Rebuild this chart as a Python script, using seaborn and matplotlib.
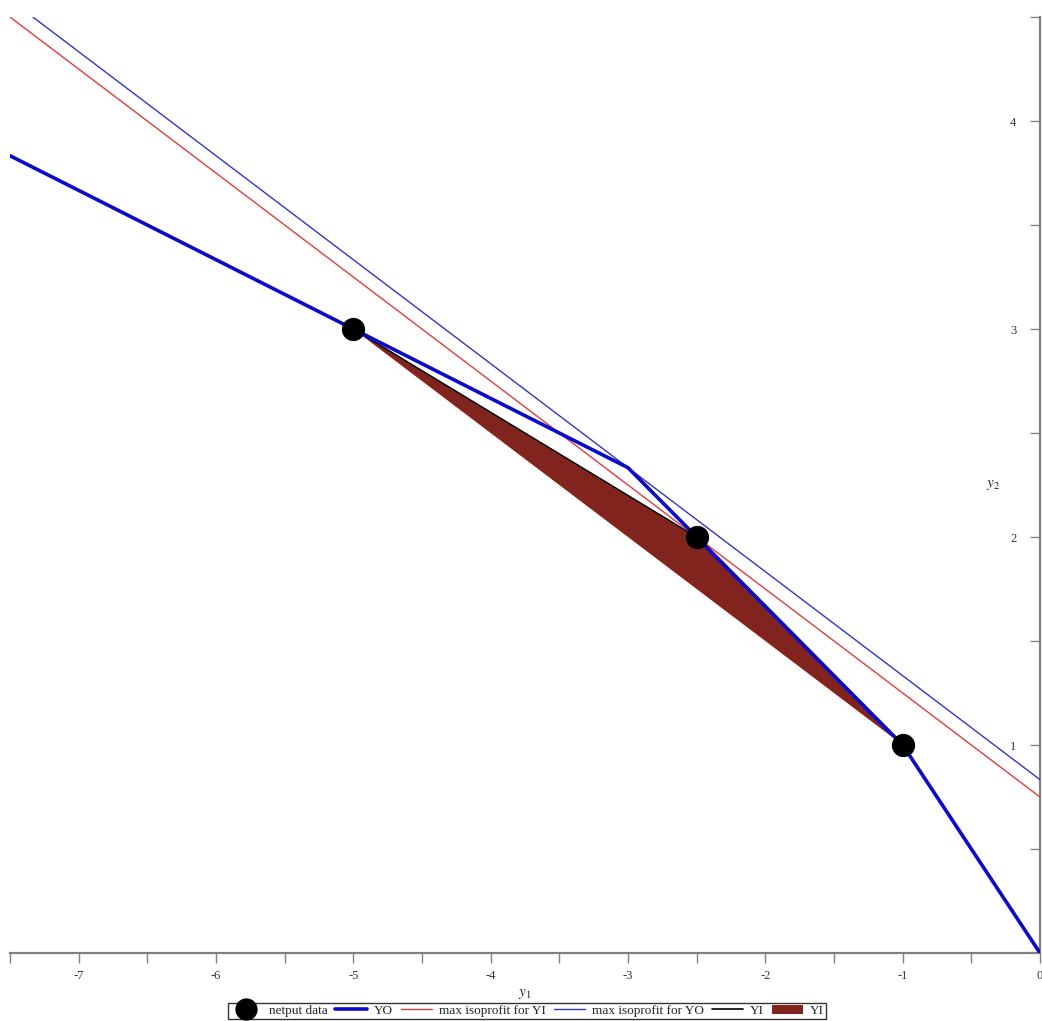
import numpy as np
import pandas as pd
import matplotlib
matplotlib.use('Agg')
import matplotlib.pyplot as plt
import seaborn as sns
from matplotlib.lines import Line2D
from matplotlib.patches import Patch
from matplotlib.ticker import MultipleLocator

# netput data points
netput_y1 = [-5.0, -2.5, -1.0]
netput_y2 = [3.0, 2.0, 1.0]

# YO frontier
yo_y1 = [-7.5, -5.0, -3.0, -2.5, -1.0, 0.0]
yo_y2 = [3.8333, 3.0, 2.3333, 2.0, 1.0, 0.0]

# max isoprofit lines
iso_yi_y1 = [-7.5, 0.0]
iso_yi_y2 = [4.5, 0.75]
iso_yo_y1 = [-7.3333, 0.0]
iso_yo_y2 = [4.5, 0.8333]

# YI region (triangle through the data)
yi_y1 = [-5.0, -2.5, -1.0, -5.0]
yi_y2 = [3.0, 2.0, 1.0, 3.0]

sns.set_style('white')
plt.rcParams['font.family'] = ['Liberation Serif', 'DejaVu Serif']
plt.rcParams['mathtext.fontset'] = 'stix'

fig = plt.figure(figsize=(10.42, 10.21), dpi=100)
ax = fig.add_axes([0.0096, 0.0666, 0.9885, 0.9167])

yi_color = '#82241e'
ax.fill(yi_y1, yi_y2, facecolor=yi_color, edgecolor='none', zorder=1)
sns.lineplot(x=yi_y1, y=yi_y2, sort=False, color='black', lw=1.0, ax=ax, zorder=2)

sns.lineplot(x=iso_yi_y1, y=iso_yi_y2, sort=False, color='#e03c3c', lw=1.0, ax=ax, zorder=3)
sns.lineplot(x=iso_yo_y1, y=iso_yo_y2, sort=False, color='#3434c8', lw=1.0, ax=ax, zorder=3)
sns.lineplot(x=yo_y1, y=yo_y2, sort=False, color='#0a0ac8', lw=2.6, ax=ax, zorder=4)
sns.scatterplot(x=netput_y1, y=netput_y2, color='black', s=280, edgecolor='black',
                linewidth=0, ax=ax, zorder=5)

ax.set_xlim(-7.5, 0)
ax.set_ylim(0, 4.5)

# Maple-style axes: x axis at bottom, y axis at right edge
for side in ['top', 'left']:
    ax.spines[side].set_visible(False)
for side in ['bottom', 'right']:
    ax.spines[side].set_color('#808080')
    ax.spines[side].set_linewidth(1.6)

ax.xaxis.set_major_locator(MultipleLocator(1))
ax.xaxis.set_minor_locator(MultipleLocator(0.5))
ax.yaxis.set_major_locator(MultipleLocator(1))
ax.yaxis.set_minor_locator(MultipleLocator(0.5))
ax.yaxis.tick_right()
ax.tick_params(axis='x', which='both', direction='out', length=7, width=1,
               color='#808080', labelsize=9, labelcolor='#333333', pad=5, bottom=True)
ax.tick_params(axis='y', which='both', direction='in', length=7, width=1,
               color='#808080', labelsize=9, labelcolor='#333333', right=True, left=False,
               labelright=True, labelleft=False, pad=-17)
ax.set_yticks([1, 2, 3, 4])
ax.set_yticks([0.5, 1.5, 2.5, 3.5, 4.5], minor=True)
for lbl in ax.get_yticklabels():
    lbl.set_horizontalalignment('right')
ax.set_xticks([-7, -6, -5, -4, -3, -2, -1, 0])
ax.set_xticklabels(['-7', '-6', '-5', '-4', '-3', '-2', '-1', '0'])

ax.set_xlabel('$y_1$', fontsize=11, labelpad=4)
ax.text(0.954, 0.5, '$y_2$', transform=ax.transAxes, fontsize=11,
        ha='center', va='center')

handles = [
    Line2D([], [], marker='o', color='black', ls='none', markersize=15),
    Line2D([], [], color='#0a0ac8', lw=2.6),
    Line2D([], [], color='#e03c3c', lw=1.0),
    Line2D([], [], color='#3434c8', lw=1.0),
    Line2D([], [], color='black', lw=1.2),
    Patch(facecolor=yi_color, edgecolor='none'),
]
labels = ['netput data', 'YO', 'max isoprofit for YI', 'max isoprofit for YO', 'YI', 'YI']
leg = fig.legend(handles, labels, loc='center', bbox_to_anchor=(0.506, 0.0098),
                 ncol=6, frameon=True, fancybox=False, edgecolor='black',
                 fontsize=9.5, handlelength=2.4, handletextpad=0.5,
                 columnspacing=0.6, borderpad=0.15, borderaxespad=0)
leg.get_frame().set_linewidth(1.0)

fig.savefig('out.png', dpi=100)
